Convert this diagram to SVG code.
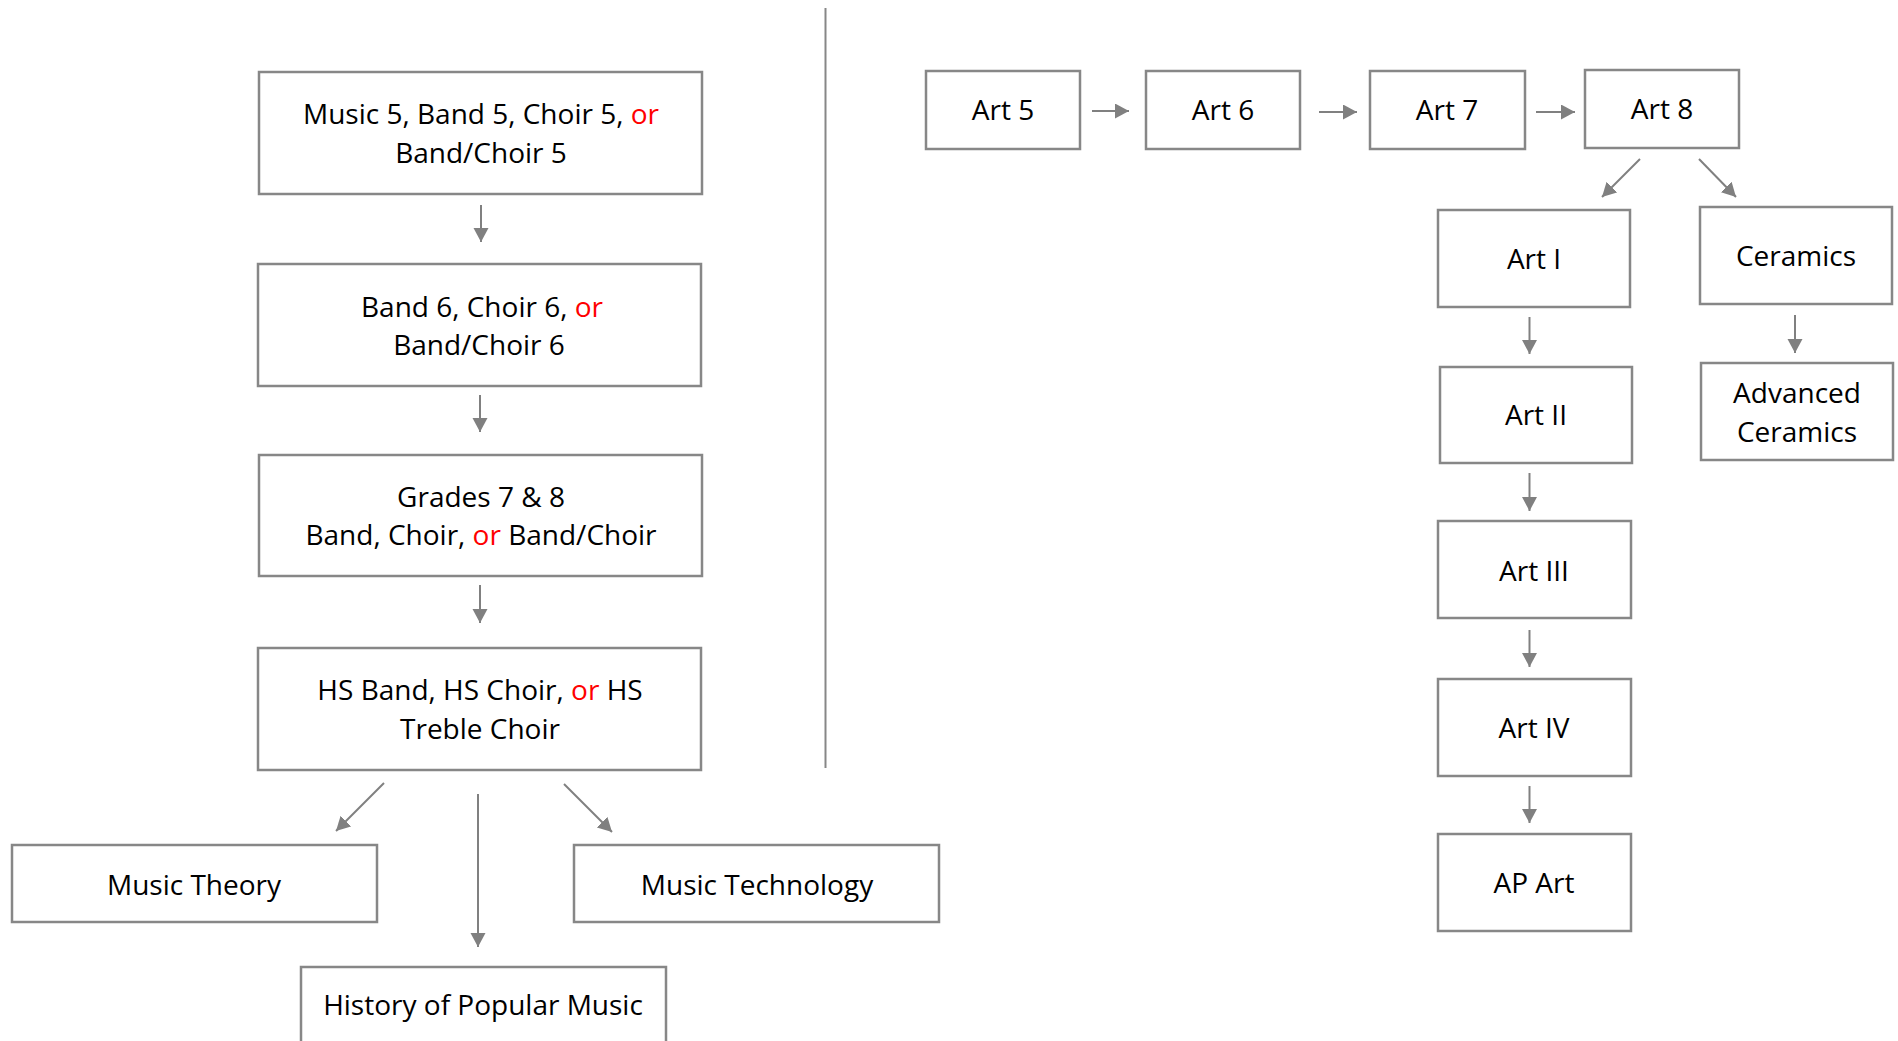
<svg xmlns="http://www.w3.org/2000/svg" width="1898" height="1041" viewBox="0 0 1898 1041">
<style>
.box{fill:#fff;stroke:#878787;stroke-width:2.5}
.t{font-family:"Open Sans","Liberation Sans",sans-serif;font-size:28px;fill:#000;text-anchor:middle}
.or{fill:#ff0000}
.c{stroke:#808080;stroke-width:2;fill:none;marker-end:url(#ah)}
</style>
<defs>
<marker id="ah" markerUnits="userSpaceOnUse" markerWidth="16" markerHeight="16" refX="14" refY="7.5" orient="auto">
<path d="M0,0 L14,7.5 L0,15 z" fill="#808080"/>
</marker>
</defs>
<rect width="1898" height="1041" fill="#fff"/>
<line x1="825.5" y1="8" x2="825.5" y2="768" stroke="#878787" stroke-width="2"/>
<g id="connectors">
<line class="c" x1="481" y1="205" x2="481" y2="242"/>
<line class="c" x1="480" y1="395" x2="480" y2="432"/>
<line class="c" x1="480" y1="585" x2="480" y2="623"/>
<line class="c" x1="384" y1="783" x2="336" y2="831"/>
<line class="c" x1="478" y1="794" x2="478" y2="947"/>
<line class="c" x1="564" y1="784" x2="612" y2="832"/>
<line class="c" x1="1092" y1="111" x2="1129" y2="111"/>
<line class="c" x1="1319" y1="112" x2="1357" y2="112"/>
<line class="c" x1="1536" y1="112" x2="1575" y2="112"/>
<line class="c" x1="1640" y1="159" x2="1602" y2="197"/>
<line class="c" x1="1699" y1="159" x2="1736" y2="197"/>
<line class="c" x1="1529.5" y1="317" x2="1529.5" y2="354"/>
<line class="c" x1="1795" y1="315" x2="1795" y2="353"/>
<line class="c" x1="1529.5" y1="473" x2="1529.5" y2="511"/>
<line class="c" x1="1529.5" y1="630" x2="1529.5" y2="667"/>
<line class="c" x1="1529.5" y1="786" x2="1529.5" y2="823"/>
</g>
<g id="music5"><rect class="box" x="259" y="72" width="443" height="122"/>
<text class="t" x="481" y="124">Music 5, Band 5, Choir 5, <tspan class="or">or</tspan></text>
<text class="t" x="481" y="163">Band/Choir 5</text></g>
<g id="band6"><rect class="box" x="258" y="264" width="443" height="122"/>
<text class="t" x="482" y="317">Band 6, Choir 6, <tspan class="or">or</tspan></text>
<text class="t" x="479" y="355">Band/Choir 6</text></g>
<g id="grades78"><rect class="box" x="259" y="455" width="443" height="121"/>
<text class="t" x="481" y="507">Grades 7 &amp; 8</text>
<text class="t" x="481" y="545">Band, Choir, <tspan class="or">or</tspan> Band/Choir</text></g>
<g id="hs"><rect class="box" x="258" y="648" width="443" height="122"/>
<text class="t" x="480" y="700">HS Band, HS Choir, <tspan class="or">or</tspan> HS</text>
<text class="t" x="480" y="739">Treble Choir</text></g>
<g id="theory"><rect class="box" x="12" y="845" width="365" height="77"/>
<text class="t" x="194" y="895">Music Theory</text></g>
<g id="tech"><rect class="box" x="574" y="845" width="365" height="77"/>
<text class="t" x="757" y="895">Music Technology</text></g>
<g id="history"><rect class="box" x="301" y="967" width="365" height="90"/>
<text class="t" x="483" y="1015">History of Popular Music</text></g>
<g id="art5"><rect class="box" x="926" y="71" width="154" height="78"/>
<text class="t" x="1003" y="120">Art 5</text></g>
<g id="art6"><rect class="box" x="1146" y="71" width="154" height="78"/>
<text class="t" x="1223" y="120">Art 6</text></g>
<g id="art7"><rect class="box" x="1370" y="71" width="155" height="78"/>
<text class="t" x="1447" y="120">Art 7</text></g>
<g id="art8"><rect class="box" x="1585" y="70" width="154" height="78"/>
<text class="t" x="1662" y="119">Art 8</text></g>
<g id="art1"><rect class="box" x="1438" y="210" width="192" height="97"/>
<text class="t" x="1534" y="269">Art I</text></g>
<g id="ceramics"><rect class="box" x="1700" y="207" width="192" height="97"/>
<text class="t" x="1796" y="266">Ceramics</text></g>
<g id="art2"><rect class="box" x="1440" y="367" width="192" height="96"/>
<text class="t" x="1536" y="425">Art II</text></g>
<g id="advceramics"><rect class="box" x="1701" y="363" width="192" height="97"/>
<text class="t" x="1797" y="403">Advanced</text>
<text class="t" x="1797" y="442">Ceramics</text></g>
<g id="art3"><rect class="box" x="1438" y="521" width="193" height="97"/>
<text class="t" x="1534" y="581">Art III</text></g>
<g id="art4"><rect class="box" x="1438" y="679" width="193" height="97"/>
<text class="t" x="1534" y="738">Art IV</text></g>
<g id="apart"><rect class="box" x="1438" y="834" width="193" height="97"/>
<text class="t" x="1534" y="893">AP Art</text></g>
</svg>
